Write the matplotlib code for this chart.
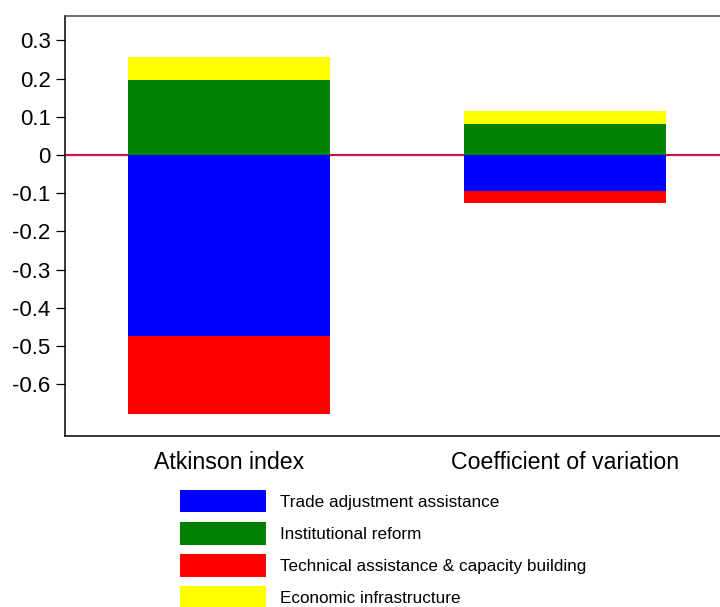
import matplotlib
matplotlib.use("Agg")
import matplotlib.pyplot as plt
from matplotlib.patches import Patch
import numpy as np

plt.rcParams['font.family'] = ['Liberation Sans', 'DejaVu Sans']

categories = ["Atkinson index", "Coefficient of variation"]
series_names = ["Trade adjustment assistance", "Institutional reform",
                "Technical assistance & capacity building", "Economic infrastructure"]
trade = [-0.475, -0.0955]
institutional = [0.196, 0.0825]
technical = [-0.203, -0.031]
economic = [0.061, 0.034]
colors = ["#0000FF", "#008000", "#FF0000", "#FFFF00"]
yticks = [0.3, 0.2, 0.1, 0, -0.1, -0.2, -0.3, -0.4, -0.5, -0.6]
ytick_labels = ["0.3", "0.2", "0.1", "0", "-0.1", "-0.2", "-0.3", "-0.4", "-0.5", "-0.6"]

W, H = 720, 607
fig = plt.figure(figsize=(W / 100, H / 100), dpi=100)
left, right, top, bottom = 65.3, 729, 16, 435.7
ax = fig.add_axes([left / W, 1 - bottom / H, (right - left) / W, (bottom - top) / H])

x = np.arange(len(categories))
width = 0.6
ax.bar(x, trade, width, color=colors[0], zorder=3)
ax.bar(x, technical, width, bottom=trade, color=colors[2], zorder=3)
ax.bar(x, institutional, width, color=colors[1], zorder=3)
ax.bar(x, economic, width, bottom=institutional, color=colors[3], zorder=3)
ax.axhline(0, color="#C8164A", lw=1.6, zorder=2)

ax.set_xlim(-0.488, 1.488)
ax.set_ylim(-0.735, 0.364)
ax.set_yticks(yticks)
ax.set_yticklabels(ytick_labels)
ax.set_xticks(x)
ax.set_xticklabels(categories)
ax.tick_params(axis='y', length=6.5, width=0.9, labelsize=16, pad=4)
ax.tick_params(axis='x', length=0, labelsize=16.7, pad=11)
ax.spines['right'].set_visible(False)
ax.spines['top'].set_color('#444444')
for s in ['left', 'bottom', 'top']:
    ax.spines[s].set_linewidth(1.1)

handles = [Patch(facecolor=c, edgecolor='none') for c in colors]
fig.legend(handles, series_names, loc='upper left',
           bbox_to_anchor=(173 / W, 1 - 483 / H), frameon=False,
           fontsize=12.3, handlelength=5.03, handleheight=1.66,
           labelspacing=0.56, handletextpad=0.86, borderaxespad=0)

fig.savefig("out.png", dpi=100)
